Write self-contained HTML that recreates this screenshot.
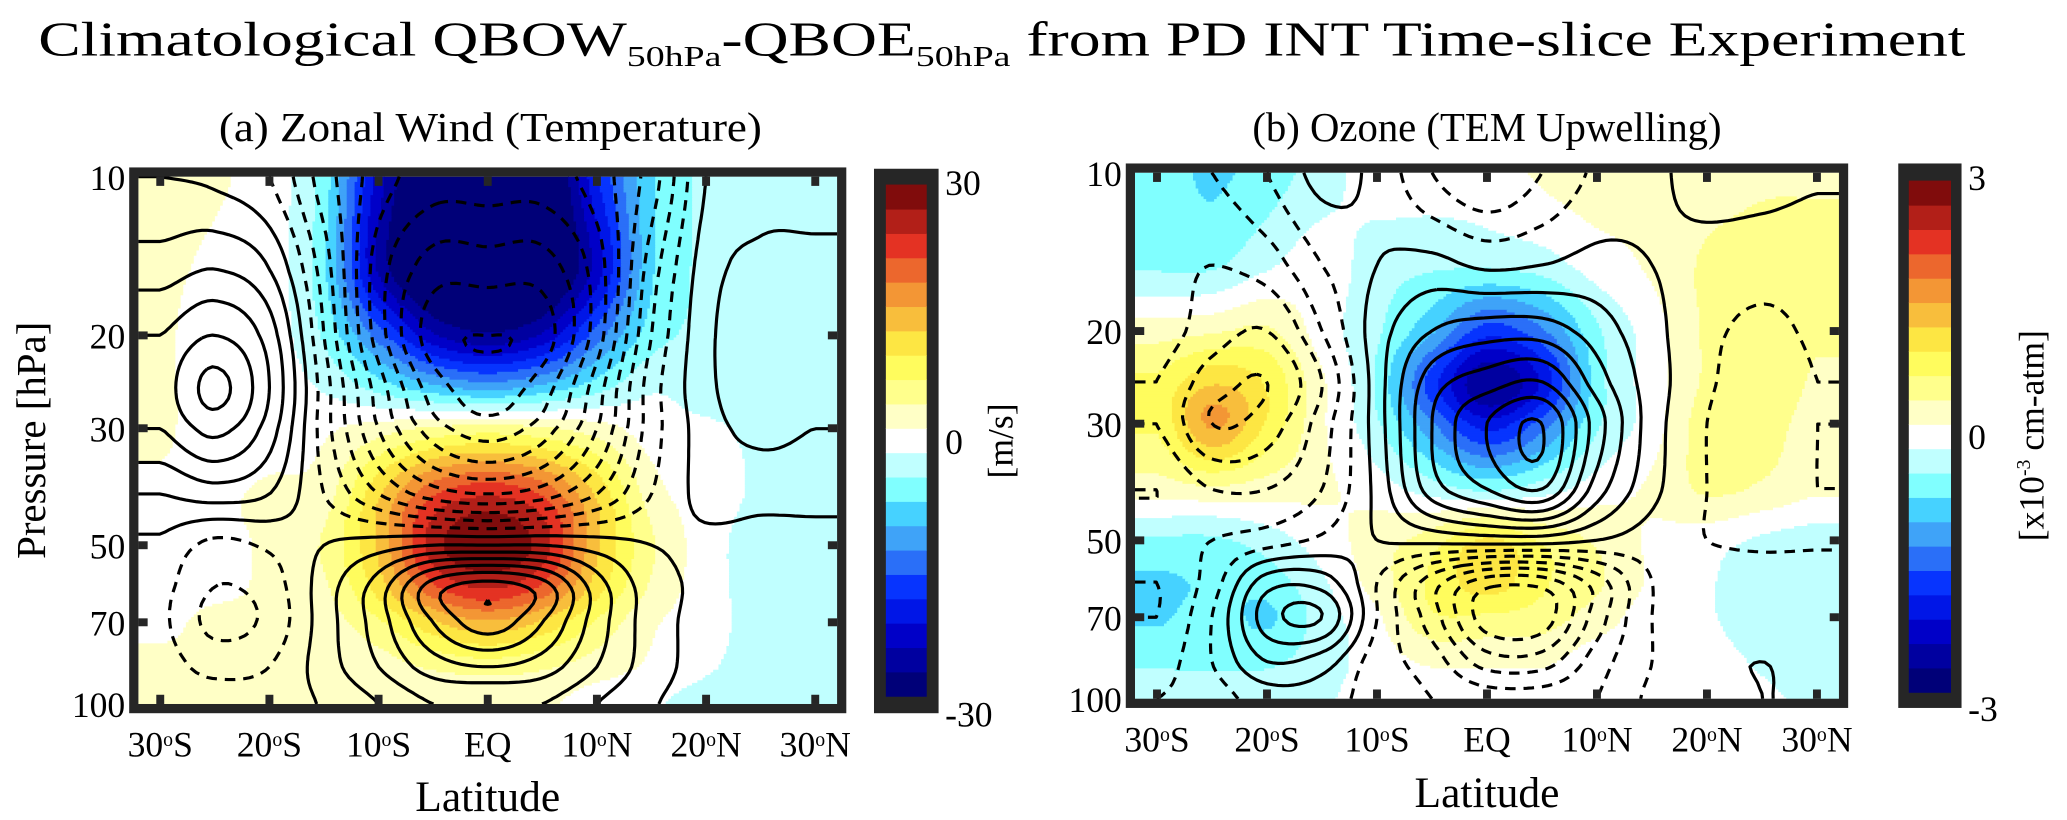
<!DOCTYPE html>
<html><head><meta charset="utf-8">
<style>
html,body{margin:0;padding:0;background:#fff;}
svg{display:block;font-family:"Liberation Serif",serif;}
</style></head>
<body>
<svg id="fig" width="2067" height="820" viewBox="0 0 1568 622" preserveAspectRatio="none" xmlns="http://www.w3.org/2000/svg">
<text x="760" y="42" font-size="37" text-anchor="middle" textLength="1462" lengthAdjust="spacingAndGlyphs">Climatological QBOW<tspan font-size="22" dy="8">50hPa</tspan><tspan dy="-8">-QBOE</tspan><tspan font-size="22" dy="8">50hPa</tspan><tspan dy="-8"> from PD INT Time-slice Experiment</tspan></text>
<g id="panelA"></g>
<g id="panelB"></g>
</svg>
<script>
// ---------- data ----------
const lats = [-30,-25,-20,-15,-10,-5,0,5,10,15,20,25,30];
const levs = [10,15,20,25,30,40,50,60,70,85,100];
const latTicks = [-30,-20,-10,0,10,20,30];
const latTickLabels = ["30","20","10","EQ","10","20","30"];
const latTickHemi = ["S","S","S","","N","N","N"];
const presTicks = [10,20,30,50,70,100];
// zonal wind shading (m/s)
const windA = [
 [2,1.8,0,-6,-24,-35,-35,-35,-20,-8,-4,-4,-4],
 [2,1,0,-7,-26,-35,-35,-35,-24,-8,-4,-4,-4],
 [2,0,0,-5,-15,-25,-28,-25,-15,-6,-4,-4,-4],
 [2,0,0,-2,-6,-10,-12,-10,-6,-2,-3,-3,-3],
 [2,0,0,1,3,5,6,5,3,0,-1,-2,-2],
 [1,1,2,3,13,22,25,22,13,3,0,-2,-3],
 [1,1,2,5,14,27,31,27,14,5,0,-3,-3],
 [1,1,2,4,12,22,26,22,12,4,0,-3,-3],
 [1,2,2,3,7,13,16,13,7,2,0,-3,-3],
 [2,2,2,2,3,5,6,5,3,1,-1,-3,-3],
 [2,2,2,2,2,2,2,2,0,-1,-3,-3,-3]
];
// temperature contours (arbitrary units)
const tempA = [
 [0.5,0.3,-0.5,-3,-5,-6,-6,-6,-5,-3,0.5,1,1],
 [2,2.5,1.5,-2,-6,-8,-8,-8,-6,-2,1,1.8,1.8],
 [3.5,4.5,3,-1.5,-6,-9,-9.5,-9,-6,-1.5,1.2,2.3,2],
 [4,5.8,3.5,-1,-5,-8,-9,-8,-5,-1,1.2,2.3,2],
 [3.5,4.8,3,-1,-4.5,-7,-8,-7,-4.5,-1,1,1.8,1.5],
 [1.5,2,1.5,-0.5,-2.5,-4,-4.5,-4,-2.5,-0.5,0.8,0.8,0.8],
 [0.3,-0.8,-0.3,0.5,1,1.5,1.5,1.5,1,0.5,0.3,0.2,0.2],
 [-0.2,-1.5,-1,1,3,6,7,6,3,1,0.3,0.1,0.1],
 [-0.3,-1.8,-1.2,1,3,5.5,7,5.5,3,1,0.2,0,0],
 [-0.1,-0.8,-0.5,1,2.5,4,4.5,4,2.5,1,0.1,0,0],
 [0,0,0,0.6,1.5,2.5,2.5,2.5,1.5,0.6,0,0,0]
];
// ozone shading (x1e-3 cm-atm)
const ozoneB = [
 [-0.6,-0.8,-0.6,-0.3,0,0,0,0.2,0.3,0.2,0.3,0.4,0.4],
 [-0.5,-0.5,-0.2,0,-0.3,-0.4,-0.4,-0.3,0,0.2,0.5,0.6,0.6],
 [0.3,0.4,0.5,0,-0.4,-1.0,-1.8,-1.4,-0.5,0,0.5,0.7,0.5],
 [0.8,1.3,1.0,0.2,-0.5,-1.8,-2.8,-2.2,-0.6,0,0.5,0.7,0.4],
 [0.8,1.7,1.0,0.2,-0.4,-1.3,-2.1,-1.5,-0.5,0,0.6,0.6,0.3],
 [0.3,0.4,0.3,0.2,0,-0.3,-0.5,-0.3,0,0.2,0.5,0.4,0.2],
 [-0.5,-0.5,-0.3,0,0.3,0.6,1.1,0.7,0.4,0.1,0,-0.2,-0.3],
 [-0.8,-0.7,-0.6,-0.2,0.3,0.8,1.2,0.8,0.5,0.1,-0.1,-0.4,-0.4],
 [-0.8,-0.6,-0.8,-0.3,0.1,0.7,0.7,0.6,0.3,0,-0.1,-0.4,-0.4],
 [-0.5,-0.5,-0.5,-0.3,0,0.2,0.2,0.2,0,0,0,-0.2,-0.3],
 [-0.3,-0.3,-0.3,-0.2,0,0,0,0,0,0,0,-0.1,-0.2]
];
// TEM upwelling contours
const upwB = [
 [-1.5,-1.5,-0.5,0.8,0.2,-1.5,-2.5,-1.5,-0.3,0.3,0.8,0.8,0.6],
 [-2,-2.5,-2,-0.5,0.5,0.8,0.3,0.5,0.8,0.5,0.2,0,0],
 [-2,-3,-3.5,-1.5,1,2.5,3,3,2,0.8,-0.2,-0.8,-0.3],
 [-2.5,-4,-4.5,-2.5,1,4,5,5.5,3,1,-0.3,-1.2,-0.5],
 [-2.5,-4.5,-4,-2,1,4.5,6.5,7.5,4,1,-0.5,-1.5,-0.5],
 [-1.5,-2.5,-2.5,-1.5,0.8,4,5.5,6.5,3,0.8,-0.5,-1.3,-0.5],
 [-2,-1.5,-1,-0.3,0.5,0.8,1,1,0.5,0,-0.5,-0.7,-0.6],
 [-2.5,-1,2,2,-0.5,-3,-5,-5,-3,-0.5,0,0,0],
 [-2.5,-0.5,3,3.5,-0.5,-3,-6,-6,-3,-0.5,0,0.3,0.2],
 [-2,-0.5,1.5,1,-1,-2,-4,-4,-2,-0.5,0.3,0.5,0.3],
 [-1.5,-1,0,0,-1,-1.5,-2,-2,-1.5,-0.3,0,0.5,0.3]
];
const cbTicksA = [30,0,-30];
const cbTicksB = [3,0,-3];

// ---------- helpers ----------
const NS = "http://www.w3.org/2000/svg";
function mk(tag, attrs, parent){const e=document.createElementNS(NS,tag);for(const k in attrs)e.setAttribute(k,attrs[k]);if(parent)parent.appendChild(e);return e;}
const stops = [[-1,0,0,120],[-0.8,0,0,200],[-0.62,0,40,255],[-0.45,60,140,245],[-0.3,70,210,255],[-0.2,128,255,255],[-0.08,205,255,255],[0,255,255,255],[0.08,255,255,210],[0.2,255,255,140],[0.35,255,250,70],[0.5,248,190,60],[0.65,240,130,50],[0.8,228,50,35],[1,128,12,12]];
function cmap(t){t=Math.max(-1,Math.min(1,t));for(let i=0;i<stops.length-1;i++){const a=stops[i],b=stops[i+1];if(t<=b[0]){const f=(t-a[0])/(b[0]-a[0]);return `rgb(${Math.round(a[1]+f*(b[1]-a[1]))},${Math.round(a[2]+f*(b[2]-a[2]))},${Math.round(a[3]+f*(b[3]-a[3]))})`;}}return "rgb(128,12,12)";}
function cr(p0,p1,p2,p3,t){return 0.5*((2*p1)+(-p0+p2)*t+(2*p0-5*p1+4*p2-p3)*t*t+(-p0+3*p1-3*p2+p3)*t*t*t);}
function levIndex(p){const lp=Math.log10(p);for(let i=0;i<levs.length-1;i++){const a=Math.log10(levs[i]),b=Math.log10(levs[i+1]);if(lp<=b)return i+Math.max(0,(lp-a)/(b-a));}return levs.length-1;}
function sample(grid,lat,p){
  const u=Math.max(0,Math.min(lats.length-1,(lat-lats[0])/5));const v=Math.max(0,Math.min(levs.length-1,levIndex(p)));
  const i=Math.min(Math.floor(u),lats.length-2),j=Math.min(Math.floor(v),levs.length-2);const fu=u-i,fv=v-j;
  const g=(jj,ii)=>grid[Math.max(0,Math.min(levs.length-1,jj))][Math.max(0,Math.min(lats.length-1,ii))];
  const rows=[];for(let k=-1;k<3;k++)rows.push(cr(g(j+k,i-1),g(j+k,i),g(j+k,i+1),g(j+k,i+2),fu));
  return cr(rows[0],rows[1],rows[2],rows[3],fv);
}

function panel(cfg){
  const G=document.getElementById(cfg.id);
  const {x0,x1,y0,y1}=cfg;
  const latMin=-32,latMax=32;
  const X=lat=>x0+(lat-latMin)/(latMax-latMin)*(x1-x0);
  const Y=p=>y0+Math.log10(p/10)*(y1-y0);
  const invX=x=>latMin+(x-x0)/(x1-x0)*(latMax-latMin);
  const invY=y=>10*Math.pow(10,(y-y0)/(y1-y0));
  const t=mk("text",{x:cfg.titleX,y:107,"font-size":31,"text-anchor":"middle",textLength:cfg.titleW,lengthAdjust:"spacingAndGlyphs"},G);
  t.textContent=cfg.title;
  
  
  const sh=mk("g",{},G);
  
  
  const step=cfg.band;
  const dy=2,dx=2;
  for(let y=y0;y<y1;y+=dy){
    const p=invY(y+dy/2);let runStart=x0,runK=null;
    for(let x=x0;x<=x1;x+=dx){
      let k=null;
      if(x<x1){const v=sample(cfg.fill,invX(x+dx/2),p);k=Math.max(-10,Math.min(10,Math.round(v/step)));}
      if(k!==runK){
        if(runK!==null){const r=mk("rect",{x:runStart,y:y,width:x-runStart+0.6,height:Math.min(dy,y1-y)+0.6,fill:cmap(runK/10)},sh);
          
          }
        runStart=x;runK=k;
      }
    }
  }
  const cg=mk("g",{fill:"none",stroke:"#000","stroke-width":2.4,"stroke-linejoin":"round"},G);
  
  
  const s=4;const nx=Math.floor((x1-x0)/s),ny=Math.floor((y1-y0)/s);
  const sx=(x1-x0)/nx,sy=(y1-y0)/ny;
  const f=[];for(let j=0;j<=ny;j++){const row=[];const p=invY(y0+j*sy);for(let i=0;i<=nx;i++)row.push(sample(cfg.lines,invX(x0+i*sx),p));f.push(row);}
  for(let L=-12.5;L<=12.5;L+=1){
    const pts=new Map();const segs=[];
    const ek=(type,i,j)=>{const key=type+i+","+j;if(!pts.has(key)){let xa,ya,xb,yb,va,vb;if(type==="h"){xa=i;ya=j;xb=i+1;yb=j;}else{xa=i;ya=j;xb=i;yb=j+1;}va=f[ya][xa];vb=f[yb][xb];const tt=(L-va)/(vb-va);pts.set(key,[x0+(xa+tt*(xb-xa))*sx,y0+(ya+tt*(yb-ya))*sy]);}return key;};
    for(let j=0;j<ny;j++)for(let i=0;i<nx;i++){
      const a=f[j][i]>L,b=f[j][i+1]>L,c=f[j+1][i+1]>L,d=f[j+1][i]>L;
      const e=[];
      if(a!==b)e.push(["top",ek("h",i,j)]);
      if(b!==c)e.push(["right",ek("v",i+1,j)]);
      if(c!==d)e.push(["bottom",ek("h",i,j+1)]);
      if(d!==a)e.push(["left",ek("v",i,j)]);
      if(e.length===2)segs.push([e[0][1],e[1][1]]);
      else if(e.length===4){
        const cen=(f[j][i]+f[j][i+1]+f[j+1][i+1]+f[j+1][i])/4>L;
        const T=e[0][1],R=e[1][1],B=e[2][1],Lf=e[3][1];
        if(cen===a){segs.push([T,R]);segs.push([B,Lf]);}else{segs.push([T,Lf]);segs.push([R,B]);}
      }
    }
    if(!segs.length)continue;
    const adj=new Map();segs.forEach((sg,idx)=>{for(const k of sg){if(!adj.has(k))adj.set(k,[]);adj.get(k).push(idx);}});
    const used=new Array(segs.length).fill(false);
    const chains=[];
    const walk=(key)=>{const out=[key];let cur=key;let sIdx=adj.get(cur).find(q=>!used[q]);while(sIdx!==undefined){used[sIdx]=true;const [p,q]=segs[sIdx];cur=(p===cur)?q:p;out.push(cur);sIdx=adj.get(cur).find(r=>!used[r]);}return out;};
    for(const [k,v] of adj){if(v.length===1&&!used[v[0]])chains.push(walk(k));}
    segs.forEach((sg,idx)=>{if(!used[idx])chains.push(walk(sg[0]));});
    let dstr="";
    for(const ch of chains){if(ch.length<2)continue;dstr+="M"+ch.map(k=>{const q=pts.get(k);return q[0].toFixed(1)+" "+q[1].toFixed(1);}).join("L");}
    const path=mk("path",{d:dstr},cg);
    if(L<0)path.setAttribute("stroke-dasharray","8 6");
    
    
  }
  const fr=mk("rect",{x:x0-3.5,y:y0-3.5,width:x1-x0+7,height:y1-y0+7,fill:"none",stroke:"#262626","stroke-width":7},G);
  
  
  latTicks.forEach((lt,i)=>{
    const x=X(lt);
    const tk1=mk("rect",{x:x-3,y:y0,width:6,height:7,fill:"#262626"},G);
    
    
    const tk2=mk("rect",{x:x-3,y:y1-7,width:6,height:7,fill:"#262626"},G);
    
    
    const lb=mk("text",{x:x,y:y1+40,"font-size":27,"text-anchor":"middle"},G);
    if(latTickHemi[i]){lb.innerHTML=latTickLabels[i]+'<tspan font-size="15" dy="-8">o</tspan><tspan dy="8">'+latTickHemi[i]+'</tspan>';}else lb.textContent=latTickLabels[i];
    
    
  });
  presTicks.forEach(p=>{
    const y=Y(p);
    if(p!==10&&p!==100){
      const tk1=mk("rect",{x:x0,y:y-3,width:7,height:6,fill:"#262626"},G);
      
      
      const tk2=mk("rect",{x:x1-7,y:y-3,width:7,height:6,fill:"#262626"},G);
      
      
    }
    const lb=mk("text",{x:x0-10,y:y+10,"font-size":27,"text-anchor":"end"},G);
    lb.textContent=String(p);
    
    
  });
  const xl=mk("text",{x:(x0+x1)/2,y:cfg.xlabY,"font-size":33,"text-anchor":"middle"},G);
  xl.textContent="Latitude";
  
  
  if(cfg.ylab){
    const yl=mk("text",{x:0,y:0,"font-size":31,"text-anchor":"middle",transform:`translate(${cfg.ylabX},${(y0+y1)/2}) rotate(-90)`},G);
    yl.textContent="Pressure [hPa]";
    
    
  }
  const cb=cfg.cb;
  const cbg=mk("g",{},G);
  
  
  const bg=mk("rect",{x:cb.ox0,y:cb.oy0,width:cb.ox1-cb.ox0,height:cb.oy1-cb.oy0,fill:"#262626"},cbg);
  
  
  const nb=21,bh=(cb.iy1-cb.iy0)/nb;
  for(let k=-10;k<=10;k++){
    const r=mk("rect",{x:cb.ix0,y:cb.iy0+(10-k)*bh,width:cb.ix1-cb.ix0,height:bh+0.5,fill:cmap(k/10)},cbg);
    
    
  }
  cb.ticks.forEach((v,i)=>{
    const y=[cb.oy0+20,(cb.oy0+cb.oy1)/2+10,cb.oy1+10][i];
    const lb=mk("text",{x:cb.ox1+5,y:y,"font-size":27},cbg);
    lb.textContent=String(v);
    
    
  });
  const ul=mk("text",{x:0,y:0,"font-size":27,"text-anchor":"middle",transform:`translate(${cb.labX},${(cb.oy0+cb.oy1)/2}) rotate(-90)`},cbg);
  ul.innerHTML=cb.label;
  
  
}

panel({id:"panelA",x0:105,x1:635,y0:134,y1:534,fill:windA,lines:tempA,band:3,title:"(a) Zonal Wind (Temperature)",titleX:372,titleW:412,xlabY:615,ylab:true,ylabX:34,
  cb:{ox0:663,ox1:712,oy0:128,oy1:541,ix0:672,ix1:703,iy0:140,iy1:528,ticks:cbTicksA,labX:768,label:"[m/s]"}});
panel({id:"panelB",x0:861,x1:1395,y0:131,y1:530,fill:ozoneB,lines:upwB,band:0.3,title:"(b) Ozone (TEM Upwelling)",titleX:1128,titleW:356,xlabY:612,ylab:false,
  cb:{ox0:1440,ox1:1488,oy0:124,oy1:537,ix0:1448,ix1:1480,iy0:137,iy1:525,ticks:cbTicksB,labX:1550,label:'[x10<tspan font-size="15" dy="-10">-3</tspan><tspan dy="10"> cm-atm]</tspan>'}});
</script>
</body></html>
